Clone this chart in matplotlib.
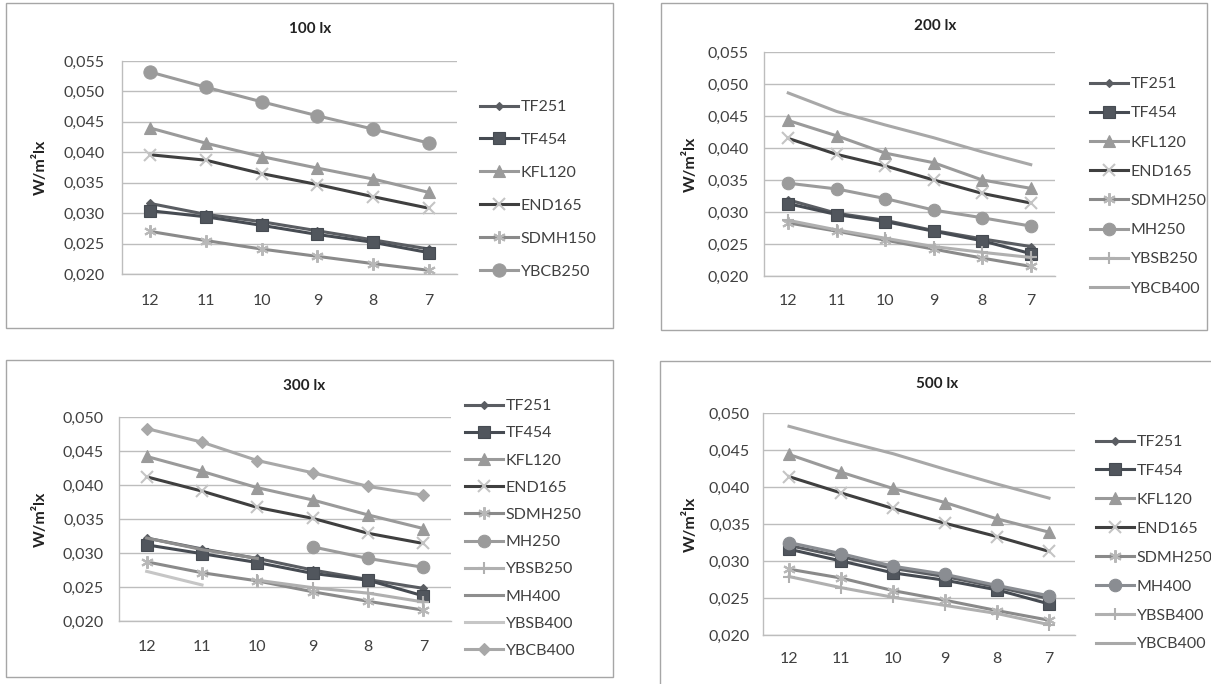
import numpy as np
import matplotlib
matplotlib.use("Agg")
import matplotlib.pyplot as plt
from matplotlib.patches import Rectangle
from matplotlib.ticker import FuncFormatter

plt.rcParams['font.family'] = ['Lato', 'DejaVu Sans']

nan = np.nan
categories = ["12", "11", "10", "9", "8", "7"]

# ---- 100 lx ----
p100_names = ["TF251", "TF454", "KFL120", "END165", "SDMH150", "YBCB250"]
p100_TF251 = [0.0316, 0.0298, 0.0286, 0.0271, 0.0256, 0.0241]
p100_TF454 = [0.0304, 0.0294, 0.0280, 0.0265, 0.0252, 0.0235]
p100_KFL120 = [0.0440, 0.0415, 0.0393, 0.0374, 0.0356, 0.0334]
p100_END165 = [0.0396, 0.0387, 0.0365, 0.0347, 0.0327, 0.0308]
p100_SDMH150 = [0.0270, 0.0255, 0.0241, 0.0229, 0.0217, 0.0206]
p100_YBCB250 = [0.0532, 0.0507, 0.0483, 0.0460, 0.0438, 0.0415]

# ---- 200 lx ----
p200_names = ["TF251", "TF454", "KFL120", "END165", "SDMH250", "MH250", "YBSB250", "YBCB400"]
p200_TF251 = [0.0319, 0.0298, 0.0287, 0.0271, 0.0258, 0.0246]
p200_TF454 = [0.0313, 0.0296, 0.0285, 0.0270, 0.0255, 0.0235]
p200_KFL120 = [0.0443, 0.0419, 0.0392, 0.0377, 0.0350, 0.0337]
p200_END165 = [0.0415, 0.0390, 0.0372, 0.0350, 0.0329, 0.0314]
p200_SDMH250 = [0.0283, 0.0270, 0.0256, 0.0242, 0.0228, 0.0215]
p200_MH250 = [0.0345, 0.0336, 0.0321, 0.0303, 0.0291, 0.0278]
p200_YBSB250 = [0.0287, 0.0272, 0.0259, 0.0246, 0.0237, 0.0229]
p200_YBCB400 = [0.0486, 0.0457, 0.0436, 0.0416, 0.0394, 0.0374]

# ---- 300 lx ----
p300_names = ["TF251", "TF454", "KFL120", "END165", "SDMH250", "MH250",
              "YBSB250", "MH400", "YBSB400", "YBCB400"]
p300_TF251 = [0.0322, 0.0306, 0.0292, 0.0275, 0.0261, 0.0248]
p300_TF454 = [0.0312, 0.0299, 0.0286, 0.0270, 0.0260, 0.0237]
p300_KFL120 = [0.0442, 0.0420, 0.0396, 0.0378, 0.0356, 0.0336]
p300_END165 = [0.0412, 0.0391, 0.0367, 0.0351, 0.0329, 0.0314]
p300_SDMH250 = [0.0287, 0.0271, 0.0259, 0.0243, 0.0229, 0.0216]
p300_MH250 = [nan, nan, nan, 0.0309, 0.0292, 0.0279]
p300_YBSB250 = [nan, nan, 0.0260, 0.0249, 0.0241, 0.0228]
p300_MH400 = [0.0322, 0.0305, 0.0292, nan, nan, nan]
p300_YBSB400 = [0.0273, 0.0253, nan, nan, nan, nan]
p300_YBCB400 = [0.0483, 0.0463, 0.0436, 0.0418, 0.0398, 0.0385]

# ---- 500 lx ----
p500_names = ["TF251", "TF454", "KFL120", "END165", "SDMH250", "MH400", "YBSB400", "YBCB400"]
p500_TF251 = [0.0321, 0.0306, 0.0290, 0.0279, 0.0265, 0.0249]
p500_TF454 = [0.0316, 0.0300, 0.0284, 0.0274, 0.0261, 0.0242]
p500_KFL120 = [0.0444, 0.0420, 0.0398, 0.0379, 0.0357, 0.0339]
p500_END165 = [0.0414, 0.0392, 0.0371, 0.0351, 0.0333, 0.0313]
p500_SDMH250 = [0.0289, 0.0277, 0.0260, 0.0247, 0.0233, 0.0220]
p500_MH400 = [0.0325, 0.0310, 0.0293, 0.0282, 0.0267, 0.0253]
p500_YBSB400 = [0.0279, 0.0264, 0.0251, 0.0240, 0.0229, 0.0214]
p500_YBCB400 = [0.0482, 0.0463, 0.0445, 0.0424, 0.0404, 0.0385]

panels = [
    ("100 lx", p100_names, [p100_TF251, p100_TF454, p100_KFL120, p100_END165, p100_SDMH150, p100_YBCB250],
     (0.020, 0.055)),
    ("200 lx", p200_names, [p200_TF251, p200_TF454, p200_KFL120, p200_END165, p200_SDMH250, p200_MH250,
                            p200_YBSB250, p200_YBCB400], (0.020, 0.055)),
    ("300 lx", p300_names, [p300_TF251, p300_TF454, p300_KFL120, p300_END165, p300_SDMH250, p300_MH250,
                            p300_YBSB250, p300_MH400, p300_YBSB400, p300_YBCB400], (0.020, 0.050)),
    ("500 lx", p500_names, [p500_TF251, p500_TF454, p500_KFL120, p500_END165, p500_SDMH250, p500_MH400,
                            p500_YBSB400, p500_YBCB400], (0.020, 0.050)),
]

# styles: color, marker, markersize, marker face color, marker edge color
styles = {
    "TF251": dict(color="#5a5d62", marker="D", ms=4.5, mfc="#5a5d62", mec="#5a5d62"),
    "TF454": dict(color="#464b52", marker="s", ms=8, mfc="#51565d", mec="#464b52"),
    "KFL120": dict(color="#9a9a9a", marker="^", ms=8.5, mfc="#9a9a9a", mec="#9a9a9a"),
    "END165": dict(color="#3f3f3f", marker="x", ms=9, mfc="#c4c4c4", mec="#c4c4c4"),
    "SDMH150": dict(color="#8a8a8a", marker=(6, 2, 0), ms=9, mfc="#b8b8b8", mec="#b8b8b8"),
    "SDMH250": dict(color="#8a8a8a", marker=(6, 2, 0), ms=9, mfc="#b8b8b8", mec="#b8b8b8"),
    "YBCB250": dict(color="#9b9b9b", marker="o", ms=9.5, mfc="#9b9b9b", mec="#9b9b9b"),
    "MH250": dict(color="#9b9b9b", marker="o", ms=9, mfc="#9b9b9b", mec="#9b9b9b"),
    "MH400": dict(color="#8e8e8e", marker="", ms=0, mfc="#8e8e8e", mec="#8e8e8e"),
    "YBSB250": dict(color="#b0b0b0", marker="+", ms=9, mfc="#b0b0b0", mec="#b0b0b0"),
    "YBSB400": dict(color="#c6c6c6", marker="", ms=0, mfc="#c6c6c6", mec="#c6c6c6"),
    "YBCB400": dict(color="#a8a8a8", marker="", ms=0, mfc="#a8a8a8", mec="#a8a8a8"),
}
styles_p300_override = {
    "YBCB400": dict(color="#a8a8a8", marker="D", ms=6, mfc="#a8a8a8", mec="#a8a8a8"),
    "MH400": dict(color="#8e8e8e", marker="", ms=0, mfc="#8e8e8e", mec="#8e8e8e"),
}
styles_p500_override = {
    "MH400": dict(color="#8a8d92", marker="o", ms=9, mfc="#8a8d92", mec="#8a8d92"),
    "YBSB400": dict(color="#b0b0b0", marker="+", ms=9, mfc="#b0b0b0", mec="#b0b0b0"),
}

W, H = 1211, 684
fig = plt.figure(figsize=(W / 100, H / 100), dpi=100)

# layout in pixels
layout = [
    dict(frame=(6, 3, 613, 328), ax=(122, 61, 457, 274), title=(310, 29), ylab=40,
         leg=(480, 100), rowpx=33.0, xpad=20, ypad=17),
    dict(frame=(661, 3, 1207, 330), ax=(764, 52, 1055, 276), title=(935, 26), ylab=690,
         leg=(1090, 77), rowpx=29.3, xpad=18, ypad=15),
    dict(frame=(6, 360, 613, 677), ax=(119, 417, 451, 621), title=(304, 386), ylab=40,
         leg=(465, 399), rowpx=27.3, xpad=19, ypad=15),
    dict(frame=(660, 361, 1215, 700), ax=(763, 413, 1075, 635), title=(937, 384), ylab=690,
         leg=(1096, 435), rowpx=29.0, xpad=17, ypad=13),
]

fs = 11.5
fmt = FuncFormatter(lambda v, p: f"{v:.3f}".replace(".", ","))
x = np.arange(len(categories))

for i, (title, names, series, ylim) in enumerate(panels):
    L = layout[i]
    fx0, fy0, fx1, fy1 = L["frame"]
    fig.patches.append(Rectangle((fx0 / W, 1 - fy1 / H), (fx1 - fx0) / W, (fy1 - fy0) / H,
                                 transform=fig.transFigure, fill=False, edgecolor="#a6a6a6",
                                 linewidth=1.0, zorder=0))
    l, t, r, b = L["ax"]
    ax = fig.add_axes([l / W, 1 - b / H, (r - l) / W, (b - t) / H])
    handles = []
    for name, vals in zip(names, series):
        st = dict(styles[name])
        if i == 2 and name in styles_p300_override:
            st = dict(styles_p300_override[name])
        if i == 3 and name in styles_p500_override:
            st = dict(styles_p500_override[name])
        ln, = ax.plot(x, vals, color=st["color"], lw=2.2, marker=st["marker"] or None,
                      markersize=st["ms"], markerfacecolor=st["mfc"], markeredgecolor=st["mec"],
                      markeredgewidth=1.5 if st["marker"] in ("x", "+", (6, 2, 0)) else 0.8,
                      label=name, zorder=3)
        handles.append(ln)
    ax.set_xlim(-0.5, len(categories) - 0.5)
    ax.set_ylim(*ylim)
    ax.set_yticks(np.arange(ylim[0], ylim[1] + 1e-9, 0.005))
    ax.yaxis.set_major_formatter(fmt)
    ax.set_xticks(x)
    ax.set_xticklabels(categories)
    ax.grid(axis="y", color="#bdbdbd", linewidth=1.0)
    ax.set_axisbelow(True)
    for s in ["top", "right"]:
        ax.spines[s].set_visible(False)
    for s in ["left", "bottom"]:
        ax.spines[s].set_color("#bdbdbd")
        ax.spines[s].set_linewidth(1.0)
    ax.tick_params(axis="both", length=0, labelsize=fs, labelcolor="#404040")
    ax.tick_params(axis="x", pad=L["xpad"] * 0.72)
    ax.tick_params(axis="y", pad=L["ypad"] * 0.72)
    fig.text(L["title"][0] / W, 1 - L["title"][1] / H, title, ha="center", va="center",
             fontsize=11, fontweight="bold", color="#222222")
    fig.text(L["ylab"] / W, 1 - ((t + b) / 2) / H, "W/m²lx", rotation=90, ha="center",
             va="center", fontsize=11.5, fontweight="bold", color="#222222")
    spacing = (L["rowpx"] / (fs * 100 / 72)) - 0.894
    leg = ax.legend(handles=handles, loc="upper left",
                    bbox_to_anchor=(L["leg"][0] / W, 1 - L["leg"][1] / H),
                    bbox_transform=fig.transFigure, frameon=False, fontsize=fs,
                    handlelength=2.4, handletextpad=0.15, labelspacing=spacing,
                    borderaxespad=0, borderpad=0, labelcolor="#404040")

fig.savefig("out.png", dpi=100)
